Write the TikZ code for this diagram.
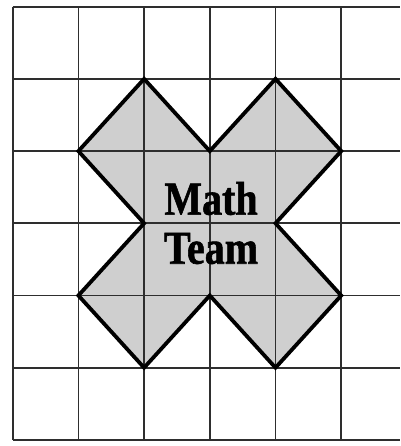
\documentclass[tikz,border=0pt]{standalone}
\usepackage{fontspec}
\setmainfont{Liberation Serif}
\newfontfamily\heavyfont[FakeBold=1.3]{Liberation Serif Bold}
\begin{document}
\begin{tikzpicture}[x=1pt,y=-1pt,
  gridline/.style={line width=1.8pt,draw=black!82},
  xshape/.style={line width=3.8pt,draw=black,line join=miter},
  label/.style={font=\fontsize{40}{50}\selectfont\heavyfont,align=center,inner sep=0pt}]
\useasboundingbox (0,0) rectangle (400,446);
\fill[white] (0,0) rectangle (400,446);
% grid
\foreach \i in {0,...,5}
  \draw[gridline] ({12.7+65.7*\i},6.7) -- ({12.7+65.7*\i},440);
\foreach \j in {0,...,6}
  \draw[gridline] (12.7,{6.7+72.2*\j}) -- (400,{6.7+72.2*\j});
% vertices
\foreach \i in {0,...,5}
  \foreach \j in {0,...,6}
    \coordinate (p\i\j) at ({12.7+65.7*\i},{6.7+72.2*\j});
% X shape
\fill[black!19] (p12) -- (p21) -- (p32) -- (p41) -- (p52) -- (p43) -- (p54) -- (p45) -- (p34) -- (p25) -- (p14) -- (p23) -- cycle;
\foreach \i in {2,3,4}
  \draw[gridline] (p\i1) -- (p\i5);
\foreach \j in {2,3,4}
  \draw[gridline] (p1\j) -- (p5\j);
\draw[xshape] (p12) -- (p21) -- (p32) -- (p41) -- (p52) -- (p43) -- (p54) -- (p45) -- (p34) -- (p25) -- (p14) -- (p23) -- cycle;
\node[label] (math) at (211,198.5) {\scalebox{1}[1.18]{Math}};
\node[label] (team) at (211,248.5) {\scalebox{1}[1.18]{Team}};
\end{tikzpicture}
\end{document}
